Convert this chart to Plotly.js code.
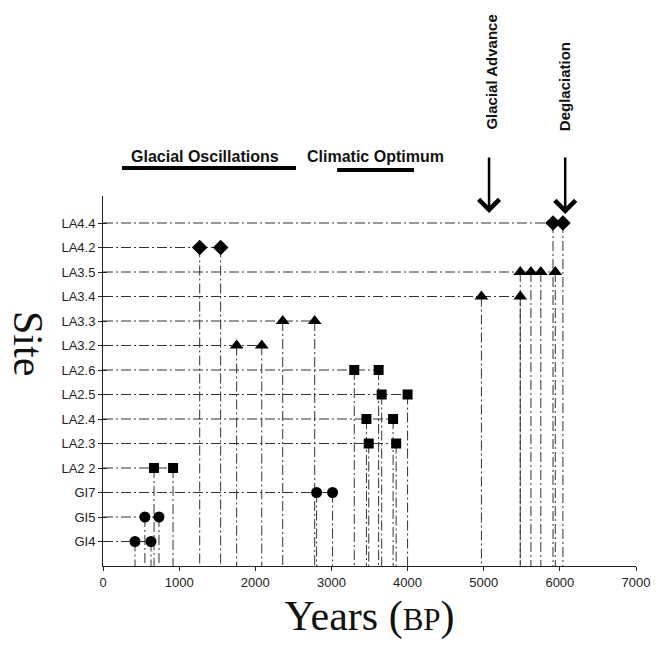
<!DOCTYPE html>
<html>
<head>
<meta charset="utf-8">
<script src="https://cdn.plot.ly/plotly-3.0.1.min.js"></script>
<style>html,body{margin:0;padding:0;background:#fff;}#chart{width:666px;height:649px;}</style>
</head>
<body>
<div id="chart"></div>
<script>
// Site categories (bottom to top)
const sites = ['GI4','GI5','GI7','LA2 2','LA2.3','LA2.4','LA2.5','LA2.6','LA3.2','LA3.3','LA3.4','LA3.5','LA4.2','LA4.4'];
const xTicks = [0,1000,2000,3000,4000,5000,6000,7000];

// GI sites (circles)
const circleSites = ['GI4','GI4','GI5','GI5','GI7','GI7'];
const circleYears = [420,630,550,735,2805,3015];
// LA2 sites (squares)
const squareSites = ['LA2 2','LA2 2','LA2.3','LA2.3','LA2.4','LA2.4','LA2.5','LA2.5','LA2.6','LA2.6'];
const squareYears = [670,920,3490,3850,3460,3810,3660,4000,3300,3620];
// LA3 sites (triangles)
const triSites = ['LA3.2','LA3.2','LA3.3','LA3.3','LA3.4','LA3.4','LA3.5','LA3.5','LA3.5','LA3.5'];
const triYears = [1755,2085,2360,2780,4970,5480,5480,5620,5750,5940];
// LA4 sites (diamonds)
const diaSites = ['LA4.2','LA4.2','LA4.4','LA4.4'];
const diaYears = [1270,1545,5910,6040];

// Period bars and events (years BP)
const oscillations = [250, 2535];
const optimum = [3075, 4085];
const glacialAdvance = 5070;
const deglaciation = 6070;

const idx = s => sites.indexOf(s) + 1;

const groups = [
  {s: circleSites, x: circleYears, sym: 'circle', size: 11},
  {s: squareSites, x: squareYears, sym: 'square', size: 10},
  {s: triSites, x: triYears, sym: 'triangle-up', size: 12},
  {s: diaSites, x: diaYears, sym: 'diamond', size: 12}
];

// drop lines
const lx = [], ly = [];
const rowMax = {};
groups.forEach(g => {
  g.s.forEach((s, i) => {
    const yv = idx(s);
    lx.push(g.x[i], g.x[i], null);
    ly.push(yv, 0, null);
    rowMax[s] = Math.max(rowMax[s] || 0, g.x[i]);
  });
});
sites.forEach(s => {
  lx.push(0, rowMax[s], null);
  ly.push(idx(s), idx(s), null);
});

const traces = [{
  x: lx, y: ly, mode: 'lines', type: 'scatter', hoverinfo: 'skip',
  line: {color: '#333', width: 1, dash: '10px,3px,2px,3px'}, showlegend: false
}];
groups.forEach(g => {
  traces.push({
    x: g.x, y: g.s.map(idx), mode: 'markers', type: 'scatter', showlegend: false,
    marker: {symbol: g.sym, size: g.size, color: '#000'}
  });
});
traces.push({x: [null], y: [null], yaxis: 'y2', mode: 'markers', showlegend: false});

const L = 103, T = 196, B = 83, R = 30;
const pyTop = 566, plotH = 649 - T - B;
const py = p => (pyTop - p) / plotH;

const boldFont = {family: 'Liberation Sans, Arial, sans-serif', size: 15, color: '#111', weight: 'bold'};

const layout = {
  width: 666, height: 649,
  margin: {l: L, r: R, t: T, b: B},
  paper_bgcolor: '#fff', plot_bgcolor: '#fff',
  showlegend: false,
  font: {family: 'Liberation Sans, Arial, sans-serif', size: 13, color: '#222'},
  xaxis: {
    range: [0, 7000], tickvals: xTicks, ticktext: xTicks.map(String),
    showgrid: false, zeroline: false, showline: true, linecolor: '#222', linewidth: 1,
    ticks: 'outside', ticklen: 4, tickcolor: '#222',
    tickfont: {size: 13, color: '#222'},
    title: {text: 'Years (<span style="font-size:31px">BP</span>)', standoff: 12,
            font: {family: 'Liberation Serif, Times New Roman, serif', size: 42, color: '#111'}}
  },
  yaxis: {
    range: [0, plotH / 24.5], tickvals: sites.map((s, i) => i + 1), ticktext: sites,
    showgrid: false, zeroline: false, showline: true, linecolor: '#222', linewidth: 1,
    ticks: 'outside', ticklen: 4, tickcolor: '#222',
    tickfont: {size: 13, color: '#222'}
  },
  yaxis2: {
    overlaying: 'y', range: [0, plotH / 24.5], tickvals: sites.map((s, i) => i + 1),
    showticklabels: false, showgrid: false, zeroline: false, showline: false,
    ticks: 'inside', ticklen: 4, tickcolor: '#222'
  },
  shapes: [
    {type: 'line', xref: 'x', yref: 'paper', x0: oscillations[0], x1: oscillations[1], y0: py(168), y1: py(168),
     line: {color: '#000', width: 4}},
    {type: 'line', xref: 'x', yref: 'paper', x0: optimum[0], x1: optimum[1], y0: py(170), y1: py(170),
     line: {color: '#000', width: 4}}
  ],
  annotations: [
    {text: 'Glacial Oscillations', xref: 'x', yref: 'paper', x: (oscillations[0] + oscillations[1]) / 2 - 50, y: py(156),
     showarrow: false, font: Object.assign({}, boldFont, {size: 16}), xanchor: 'center', yanchor: 'middle'},
    {text: 'Climatic Optimum', xref: 'x', yref: 'paper', x: 3580, y: py(156),
     showarrow: false, font: Object.assign({}, boldFont, {size: 16}), xanchor: 'center', yanchor: 'middle'},
    {text: 'Glacial Advance', xref: 'x', yref: 'paper', x: glacialAdvance + 20, y: py(72), textangle: -90,
     showarrow: false, font: boldFont, xanchor: 'center', yanchor: 'middle'},
    {text: 'Deglaciation', xref: 'x', yref: 'paper', x: deglaciation, y: py(87), textangle: -90,
     showarrow: false, font: boldFont, xanchor: 'center', yanchor: 'middle'},
    {text: '', xref: 'x', yref: 'paper', x: glacialAdvance, y: py(213), ax: 0, ay: -57,
     showarrow: true, arrowhead: 4, arrowsize: 1.6, arrowwidth: 2.5, arrowcolor: '#000'},
    {text: '', xref: 'x', yref: 'paper', x: deglaciation, y: py(214), ax: 0, ay: -58,
     showarrow: true, arrowhead: 4, arrowsize: 1.6, arrowwidth: 2.5, arrowcolor: '#000'},
    {text: 'Site', xref: 'paper', yref: 'paper', x: (28 - L) / 533, y: py(343), textangle: 90,
     showarrow: false, xanchor: 'center', yanchor: 'middle',
     font: {family: 'Liberation Serif, Times New Roman, serif', size: 42, color: '#111'}}
  ]
};

Plotly.newPlot('chart', traces, layout, {displayModeBar: false, staticPlot: true});
</script>
</body>
</html>
